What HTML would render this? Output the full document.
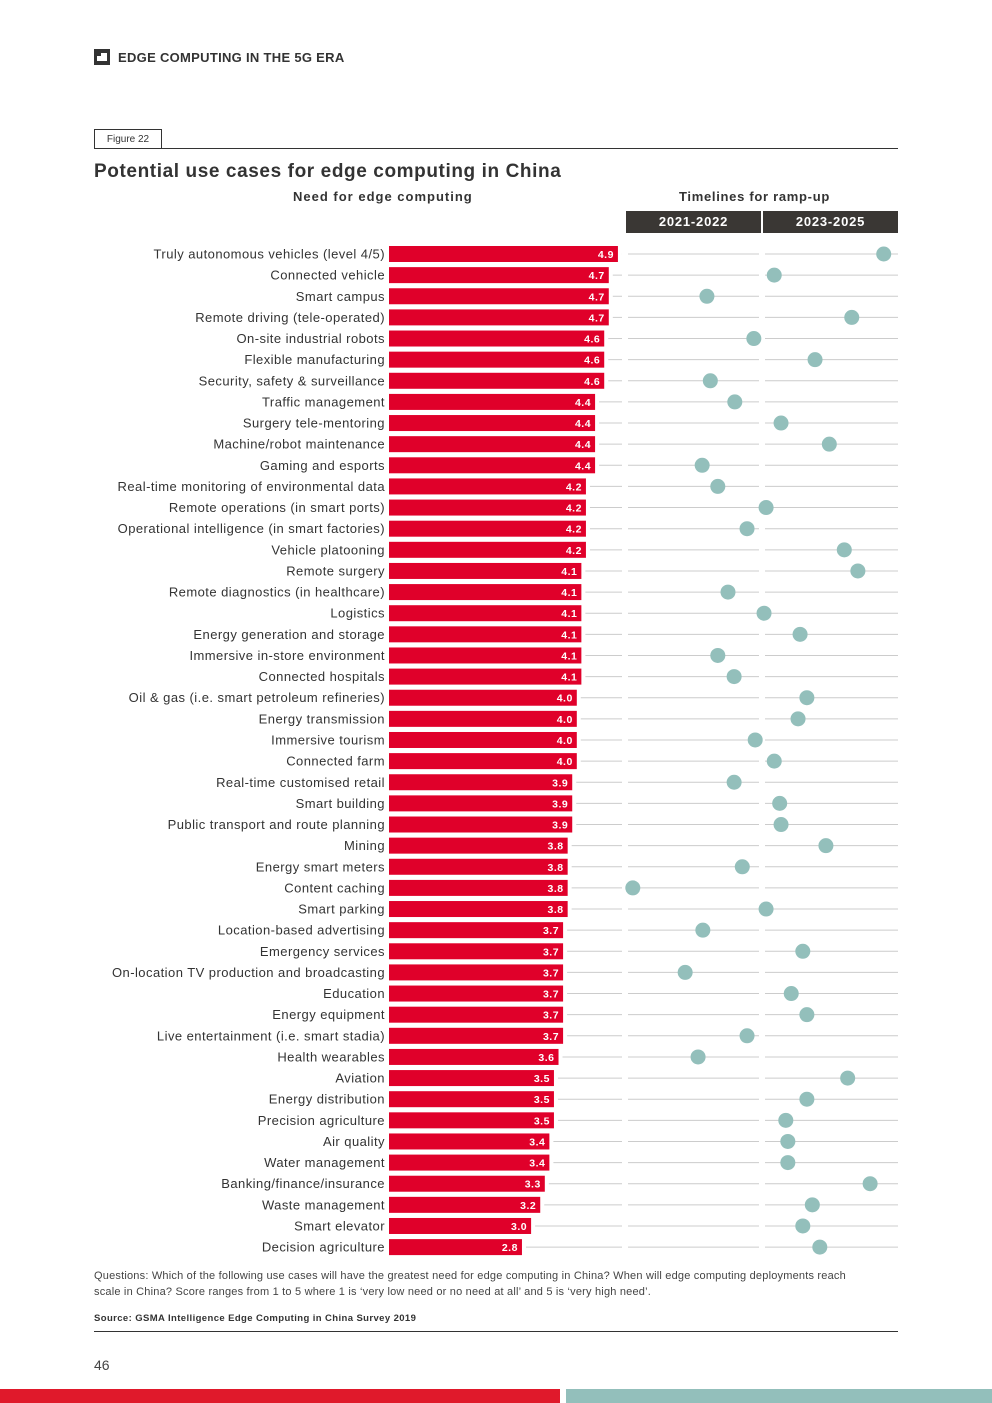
<!DOCTYPE html>
<html><head><meta charset="utf-8"><style>
body{margin:0;background:#fff;font-family:"Liberation Sans",sans-serif;color:#333;}
#wrap{position:relative;width:992px;height:1403px;overflow:hidden;}
.abs{position:absolute;}
</style></head><body>
<div id="wrap">
<div class="abs" style="left:94px;top:49px;width:16px;height:16px;background:#333"><div style="position:absolute;left:3px;top:7px;width:10px;height:5px;background:#fff"></div><div style="position:absolute;left:7px;top:4px;width:6px;height:3px;background:#fff"></div></div>
<div class="abs" style="left:118px;top:50px;font-size:13px;font-weight:bold;color:#333;letter-spacing:0.3px">EDGE COMPUTING IN THE 5G ERA</div>
<div class="abs" style="left:94px;top:129px;width:66px;height:18px;border:1px solid #333;font-size:10px;line-height:20px;text-align:center">Figure 22</div>
<div class="abs" style="left:94px;top:148px;width:804px;height:1px;background:#333"></div>
<div class="abs" style="left:94px;top:161px;font-size:19px;font-weight:bold;color:#333;letter-spacing:0.6px">Potential use cases for edge computing in China</div>
<div class="abs" style="left:293px;top:189px;font-size:13px;font-weight:bold;letter-spacing:1px">Need for edge computing</div>
<div class="abs" style="left:679px;top:189px;font-size:13px;font-weight:bold;letter-spacing:0.7px">Timelines for ramp-up</div>
<div class="abs" style="left:626px;top:211px;width:135px;height:22px;background:#3a3734;color:#fff;font-size:13px;font-weight:bold;line-height:22px;text-align:center;letter-spacing:0.8px">2021-2022</div>
<div class="abs" style="left:763px;top:211px;width:135px;height:22px;background:#3a3734;color:#fff;font-size:13px;font-weight:bold;line-height:22px;text-align:center;letter-spacing:0.8px">2023-2025</div>
<svg id="chart" class="abs" style="left:0;top:0" width="992" height="1403"></svg>
<div class="abs" style="left:94px;top:1268px;width:760px;font-size:11px;line-height:16px;color:#444;letter-spacing:0.2px">Questions: Which of the following use cases will have the greatest need for edge computing in China? When will edge computing deployments reach scale in China? Score ranges from 1 to 5 where 1 is ‘very low need or no need at all’ and 5 is ‘very high need’.</div>
<div class="abs" style="left:94px;top:1313px;font-size:9.5px;font-weight:bold;color:#333;letter-spacing:0.4px">Source: GSMA Intelligence Edge Computing in China Survey 2019</div>
<div class="abs" style="left:94px;top:1331px;width:804px;height:1px;background:#333"></div>
<div class="abs" style="left:94px;top:1357px;font-size:14px;color:#444">46</div>
<div class="abs" style="left:0;top:1389px;width:560px;height:14px;background:#e0192b"></div>
<div class="abs" style="left:566px;top:1389px;width:426px;height:14px;background:#93bfbb"></div>
</div>
<script>
const categories=["Truly autonomous vehicles (level 4/5)","Connected vehicle","Smart campus","Remote driving (tele-operated)","On-site industrial robots","Flexible manufacturing","Security, safety & surveillance","Traffic management","Surgery tele-mentoring","Machine/robot maintenance","Gaming and esports","Real-time monitoring of environmental data","Remote operations (in smart ports)","Operational intelligence (in smart factories)","Vehicle platooning","Remote surgery","Remote diagnostics (in healthcare)","Logistics","Energy generation and storage","Immersive in-store environment","Connected hospitals","Oil & gas (i.e. smart petroleum refineries)","Energy transmission","Immersive tourism","Connected farm","Real-time customised retail","Smart building","Public transport and route planning","Mining","Energy smart meters","Content caching","Smart parking","Location-based advertising","Emergency services","On-location TV production and broadcasting","Education","Energy equipment","Live entertainment (i.e. smart stadia)","Health wearables","Aviation","Energy distribution","Precision agriculture","Air quality","Water management","Banking/finance/insurance","Waste management","Smart elevator","Decision agriculture"];
const needScores=[4.9,4.7,4.7,4.7,4.6,4.6,4.6,4.4,4.4,4.4,4.4,4.2,4.2,4.2,4.2,4.1,4.1,4.1,4.1,4.1,4.1,4.0,4.0,4.0,4.0,3.9,3.9,3.9,3.8,3.8,3.8,3.8,3.7,3.7,3.7,3.7,3.7,3.7,3.6,3.5,3.5,3.5,3.4,3.4,3.3,3.2,3.0,2.8];
const rampYears=[2024.79,2023.18,2022.19,2024.32,2022.88,2023.78,2022.24,2022.60,2023.28,2023.99,2022.12,2022.35,2023.06,2022.78,2024.21,2024.41,2022.50,2023.03,2023.56,2022.35,2022.59,2023.66,2023.53,2022.90,2023.18,2022.59,2023.26,2023.28,2023.94,2022.71,2021.10,2023.06,2022.13,2023.60,2021.87,2023.43,2023.66,2022.78,2022.06,2024.26,2023.66,2023.35,2023.38,2023.38,2024.59,2023.74,2023.60,2023.85];
const NS="http://www.w3.org/2000/svg";
const svg=document.getElementById('chart');
const xBar=v=>394+45.7*v;
const xTime=t=>626+(t-2021)*68;
const yRow=i=>254+i*21.13;
function mk(tag,attrs){const e=document.createElementNS(NS,tag);for(const k in attrs)e.setAttribute(k,attrs[k]);svg.appendChild(e);return e;}
categories.forEach((c,i)=>{
  const y=yRow(i), end=xBar(needScores[i]);
  const g1=mk('line',{x1:end+4,x2:622,y1:y,y2:y,stroke:'#ccc','stroke-width':1});
  
  
  const g2=mk('line',{x1:628,x2:759,y1:y,y2:y,stroke:'#ccc','stroke-width':1});
  
  
  const g3=mk('line',{x1:765,x2:898,y1:y,y2:y,stroke:'#ccc','stroke-width':1});
  
  
  const lab=mk('text',{x:385,y:y+4.5,'text-anchor':'end','font-size':13,fill:'#333','font-family':'Liberation Sans, sans-serif','letter-spacing':'0.45'});
  lab.textContent=c;
  
  
  const bar=mk('rect',{x:389,y:y-8,width:end-389,height:16,fill:'#e0002a'});
  
  
  const vt=mk('text',{x:end-4,y:y+4,'text-anchor':'end','font-size':10.5,'font-weight':'bold',fill:'#fff','font-family':'Liberation Sans, sans-serif','letter-spacing':'0.5'});
  vt.textContent=needScores[i].toFixed(1);
  
  
  const d=mk('circle',{cx:xTime(rampYears[i]),cy:y,r:7.5,fill:'#93bfbb'});
  
  
});
</script>
</body></html>
